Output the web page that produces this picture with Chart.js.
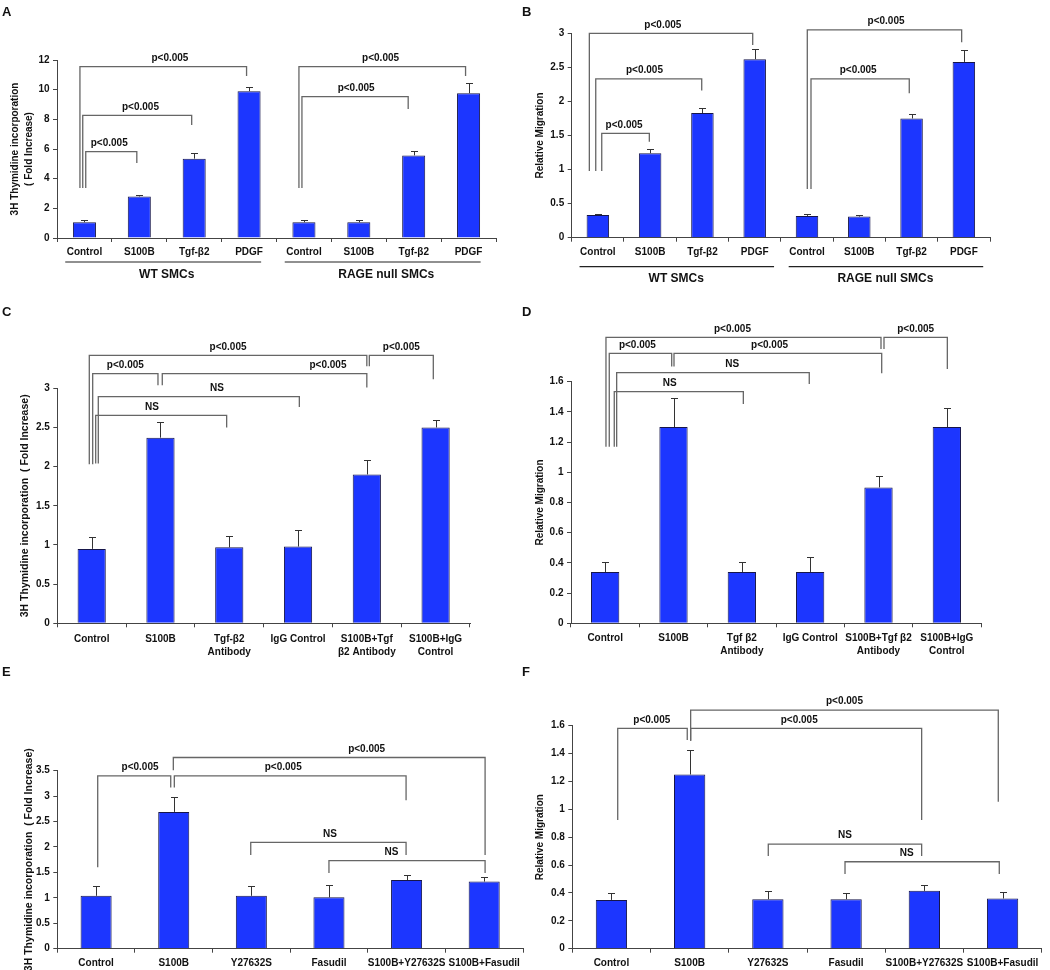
<!DOCTYPE html>
<html lang="en">
<head>
  <meta charset="UTF-8" />
  <title>S100B, Tgf-β2 and ROCK inhibitors in SMCs</title>
  <script src="https://cdn.jsdelivr.net/npm/chart.js"></script>
  <style>
    * { margin: 0; padding: 0; box-sizing: border-box; }
    html, body { width: 1050px; height: 970px; background: #fff; overflow: hidden; }
    .panel { position: absolute; }
  </style>
</head>
<body>
  <canvas id="chartA" class="panel"></canvas>
  <canvas id="chartB" class="panel"></canvas>
  <canvas id="chartC" class="panel"></canvas>
  <canvas id="chartD" class="panel"></canvas>
  <canvas id="chartE" class="panel"></canvas>
  <canvas id="chartF" class="panel"></canvas>

  <script>
    // ---- data ----
    const catsAB = ['Control', 'S100B', 'Tgf-β2', 'PDGF', 'Control', 'S100B', 'Tgf-β2', 'PDGF'];
    const groupsAB = ['WT SMCs', 'RAGE null SMCs'];

    const thymA    = [1.07, 2.80, 5.35, 9.90, 1.07, 1.06, 5.57, 9.76];
    const thymAErr = [0.16, 0.12, 0.38, 0.25, 0.15, 0.15, 0.32, 0.70];
    const ticksA   = [0, 2, 4, 6, 8, 10, 12];

    const migB    = [0.335, 1.24, 1.83, 2.62, 0.32, 0.31, 1.75, 2.58];
    const migBErr = [0.015, 0.06, 0.08, 0.15, 0.025, 0.025, 0.07, 0.18];
    const ticksB  = [0, 0.5, 1, 1.5, 2, 2.5, 3];

    const catsC    = ['Control', 'S100B', ['Tgf-β2', 'Antibody'], 'IgG Control', ['S100B+Tgf', 'β2 Antibody'], ['S100B+IgG', 'Control']];
    const thymC    = [0.95, 2.37, 0.97, 0.98, 1.90, 2.50];
    const thymCErr = [0.15, 0.20, 0.14, 0.21, 0.19, 0.10];
    const ticksC   = [0, 0.5, 1, 1.5, 2, 2.5, 3];

    const catsD   = ['Control', 'S100B', ['Tgf β2', 'Antibody'], 'IgG Control', ['S100B+Tgf β2', 'Antibody'], ['S100B+IgG', 'Control']];
    const migD    = [0.34, 1.30, 0.34, 0.34, 0.90, 1.30];
    const migDErr = [0.066, 0.19, 0.066, 0.097, 0.077, 0.126];
    const ticksD  = [0, 0.2, 0.4, 0.6, 0.8, 1, 1.2, 1.4, 1.6];

    const catsEF   = ['Control', 'S100B', 'Y27632S', 'Fasudil', 'S100B+Y27632S', 'S100B+Fasudil'];
    const thymE    = [1.04, 2.69, 1.04, 1.01, 1.35, 1.32];
    const thymEErr = [0.20, 0.30, 0.20, 0.25, 0.10, 0.09];
    const ticksE   = [0, 0.5, 1, 1.5, 2, 2.5, 3, 3.5];

    const migF    = [0.35, 1.25, 0.355, 0.355, 0.415, 0.36];
    const migFErr = [0.053, 0.177, 0.062, 0.048, 0.04, 0.044];
    const ticksF  = [0, 0.2, 0.4, 0.6, 0.8, 1, 1.2, 1.4, 1.6];

    // significance brackets: [from, nudgeFrom, to, nudgeTo, level, legFrom, legTo, text, textAt]
    const sigA = [
      [0, -4.5, 3, -2.5, 11.55, 3.37, 10.92, 'p<0.005', 0.54],
      [0, -1.7, 2, -2.5, 8.27, 3.37, 7.62, 'p<0.005', 0.53],
      [0, 1.3, 1, -2.5, 5.82, 3.37, 5.06, 'p<0.005', 0.46],
      [4, -5, 7, -3, 11.55, 3.37, 10.92, 'p<0.005', 0.49],
      [4, -2, 6, -5.5, 9.53, 3.37, 8.70, 'p<0.005', 0.51]
    ];
    const sigB = [
      [0, -8.5, 3, -2, 3.0, 0.98, 2.83, 'p<0.005', 0.45],
      [0, -2.1, 2, -0.7, 2.33, 0.98, 2.16, 'p<0.005', 0.46],
      [0, 3.9, 1, -0.8, 1.53, 0.98, 1.41, 'p<0.005', 0.47],
      [4, 0.3, 7, -2.2, 3.05, 0.715, 2.87, 'p<0.005', 0.51],
      [4, 4, 6, -2.3, 2.33, 0.715, 2.12, 'p<0.005', 0.48]
    ];
    const sigC = [
      [0, -2.4, 4, 0, 3.42, 2.03, 3.28, 'p<0.005', 0.5],
      [4, 2.5, 5, -2.3, 3.42, 3.28, 3.115, 'p<0.005', 0.5],
      [0, 1, 1, -2.5, 3.187, 2.03, 3.04, 'p<0.005', 0.5],
      [1, 1.8, 4, 0, 3.187, 3.04, 3.01, 'p<0.005', 0.81],
      [0, 6.6, 3, 1.3, 2.893, 2.04, 2.76, 'NS', 0.59],
      [0, 4, 2, -2.6, 2.655, 2.04, 2.50, 'NS', 0.43]
    ];
    const sigD = [
      [0, 0.8, 4, 2.5, 1.894, 1.17, 1.817, 'p<0.005', 0.46],
      [4, 5.5, 5, 0.5, 1.894, 1.817, 1.684, 'p<0.005', 0.5],
      [0, 4.1, 1, -1.8, 1.788, 1.17, 1.70, 'p<0.005', 0.45],
      [1, 0.5, 4, 3.2, 1.788, 1.70, 1.656, 'p<0.005', 0.46],
      [0, 11.5, 3, -0.9, 1.66, 1.17, 1.585, 'NS', 0.6],
      [0, 9.1, 2, 1.5, 1.534, 1.17, 1.452, 'NS', 0.43]
    ];
    const sigE = [
      [0, 1.6, 1, -3, 3.40, 1.60, 3.17, 'p<0.005', 0.58],
      [1, -0.4, 5, 0.9, 3.76, 3.51, 1.84, 'p<0.005', 0.62],
      [1, 0.6, 4, -0.5, 3.40, 3.17, 2.92, 'p<0.005', 0.47],
      [2, -0.6, 4, -0.5, 2.09, 1.84, 1.84, 'NS', 0.51],
      [3, 0, 5, 0.9, 1.73, 1.49, 1.49, 'NS', 0.4]
    ];
    const sigF = [
      [0, 6.3, 1, -2.4, 1.581, 0.923, 1.497, 'p<0.005', 0.49],
      [1, 1, 5, -4.3, 1.712, 1.492, 1.055, 'p<0.005', 0.5],
      [1, 1, 4, -2.7, 1.581, 1.492, 0.923, 'p<0.005', 0.47],
      [2, 0.4, 4, -2.7, 0.751, 0.665, 0.665, 'NS', 0.5],
      [3, -1.1, 5, -3.3, 0.624, 0.536, 0.536, 'NS', 0.4]
    ];

    // ---- layout of the six panels (page pixels) ----
    const FONT = "'Liberation Sans', Arial, Helvetica, sans-serif";
    const INK = '#111';
    const AXIS = '#444';
    const BAR = '#1c36ff';

    const panels = [
      { id: 'chartA', letter: 'A', box: [0, 0, 520, 300], area: [57, 60, 496, 238],
        title: ['3H Thymidine incorporation', '( Fold Increase)'], titleX: 15, titleSize: 10, titleLH: 1.4,
        labels: catsAB, values: thymA, errors: thymAErr, ticks: ticksA, barPct: 0.42, sig: sigA,
        groups: groupsAB, underline: [0.35, 0.22], lineDy: 24, groupDy: 37, labelPad: 3.5 },
      { id: 'chartB', letter: 'B', box: [520, 0, 530, 300], area: [571.7, 33.3, 990, 237.7],
        title: 'Relative Migration', titleX: 540.7, titleSize: 10, titleLH: 1.2,
        labels: catsAB, values: migB, errors: migBErr, ticks: ticksB, barPct: 0.43, sig: sigB,
        groups: groupsAB, underline: [0.35, 0.37], lineDy: 29, groupDy: 41, labelPad: 4 },
      { id: 'chartC', letter: 'C', box: [0, 300, 520, 360], area: [57.3, 388.3, 470, 623.3],
        title: '3H Thymidine incorporation  ( Fold Increase)', titleX: 25, titleSize: 10.5, titleLH: 1.2,
        labels: catsC, values: thymC, errors: thymCErr, ticks: ticksC, barPct: 0.41, sig: sigC, labelPad: 5 },
      { id: 'chartD', letter: 'D', box: [520, 300, 530, 360], area: [571, 381.7, 981, 623.3],
        title: 'Relative Migration', titleX: 540.7, titleSize: 10, titleLH: 1.2,
        labels: catsD, values: migD, errors: migDErr, ticks: ticksD, barPct: 0.414, sig: sigD, labelPad: 4.5 },
      { id: 'chartE', letter: 'E', box: [0, 660, 532, 310], area: [57.3, 770.7, 523, 948.7],
        title: '3H Thymidine incorporation  ( Fold Increase)', titleX: 29, titleSize: 10.5, titleLH: 1.2,
        labels: catsEF, values: thymE, errors: thymEErr, ticks: ticksE, barPct: 0.4, sig: sigE, labelPad: 4 },
      { id: 'chartF', letter: 'F', box: [520, 660, 530, 310], area: [572.3, 725.7, 1041.7, 948.7],
        title: 'Relative Migration', titleX: 540.7, titleSize: 10, titleLH: 1.2,
        labels: catsEF, values: migF, errors: migFErr, ticks: ticksF, barPct: 0.4, sig: sigF, labelPad: 4 }
    ];

    // error bars (upper half only, as in the figure)
    const errorBars = {
      id: 'errorBars',
      afterDatasetsDraw(chart) {
        const ds = chart.data.datasets[0];
        const y = chart.scales.y;
        const ctx = chart.ctx;
        ctx.save();
        ctx.strokeStyle = '#333';
        ctx.lineWidth = 1;
        chart.getDatasetMeta(0).data.forEach((bar, i) => {
          const top = Math.round(y.getPixelForValue(ds.data[i] + ds.errors[i])) + 0.5;
          const x = Math.round(bar.x) + 0.5;
          ctx.beginPath();
          ctx.moveTo(x, bar.y);
          ctx.lineTo(x, top);
          ctx.moveTo(x - 3.5, top);
          ctx.lineTo(x + 3.5, top);
          ctx.stroke();
        });
        ctx.restore();
      }
    };

    // brackets, group underlines, panel letter
    const extras = {
      id: 'extras',
      afterDraw(chart, args, opts) {
        const p = opts.panel;
        const xs = chart.scales.x, ys = chart.scales.y;
        const ctx = chart.ctx;
        ctx.save();

        ctx.strokeStyle = '#666';
        ctx.lineWidth = 1.3;
        ctx.fillStyle = INK;
        ctx.font = 'bold 10px ' + FONT;
        ctx.textAlign = 'center';
        ctx.textBaseline = 'middle';
        p.sig.forEach(([a, da, b, db, lvl, la, lb, text, at]) => {
          const x1 = xs.getPixelForValue(a) + da;
          const x2 = xs.getPixelForValue(b) + db;
          const yt = ys.getPixelForValue(lvl);
          ctx.beginPath();
          ctx.moveTo(x1, ys.getPixelForValue(la));
          ctx.lineTo(x1, yt);
          ctx.lineTo(x2, yt);
          ctx.lineTo(x2, ys.getPixelForValue(lb));
          ctx.stroke();
          ctx.fillText(text, x1 + (x2 - x1) * at, yt - 8.5);
        });

        if (p.groups) {
          const per = p.labels.length / p.groups.length;
          const w = xs.getPixelForValue(1) - xs.getPixelForValue(0);
          const base = chart.chartArea.bottom;
          ctx.strokeStyle = '#222';
          ctx.lineWidth = 1.2;
          ctx.font = 'bold 12px ' + FONT;
          p.groups.forEach((g, k) => {
            const c0 = xs.getPixelForValue(k * per);
            const c1 = xs.getPixelForValue(k * per + per - 1);
            ctx.beginPath();
            ctx.moveTo(c0 - p.underline[0] * w, base + p.lineDy);
            ctx.lineTo(c1 + p.underline[1] * w, base + p.lineDy);
            ctx.stroke();
            ctx.fillText(g, (c0 + c1) / 2, base + p.groupDy);
          });
        }

        ctx.font = 'bold 13px ' + FONT;
        ctx.textAlign = 'left';
        ctx.fillText(p.letter, 2, 12);
        ctx.restore();
      }
    };

    function buildPanel(p) {
      const [bx, by, bw, bh] = p.box;
      const [al, at, ar, ab] = p.area;
      const canvas = document.getElementById(p.id);
      canvas.width = bw;
      canvas.height = bh;
      canvas.style.left = bx + 'px';
      canvas.style.top = by + 'px';
      canvas.style.width = bw + 'px';
      canvas.style.height = bh + 'px';

      const titleLine = p.titleSize * p.titleLH;
      const padLeft = p.titleX - bx - titleLine / 2;
      const yWidth = al - bx - padLeft;
      const xHeight = by + bh - ab;
      const t = p.ticks;

      return new Chart(canvas, {
        type: 'bar',
        data: {
          labels: p.labels,
          datasets: [{
            data: p.values,
            errors: p.errors,
            backgroundColor: BAR,
            borderColor: '#16164a',
            borderWidth: 1,
            categoryPercentage: 1,
            barPercentage: p.barPct
          }]
        },
        options: {
          responsive: false,
          animation: false,
          devicePixelRatio: 1,
          events: [],
          layout: { padding: { left: padLeft, top: at - by, right: bx + bw - ar, bottom: 0 } },
          plugins: { legend: { display: false }, tooltip: { enabled: false }, extras: { panel: p } },
          scales: {
            x: {
              offset: true,
              grid: { offset: true, drawOnChartArea: false, drawTicks: true, tickLength: 4, color: AXIS },
              border: { color: AXIS, width: 1 },
              ticks: { color: INK, font: { size: 10, weight: 'bold', lineHeight: 1.3 }, padding: p.labelPad,
                       maxRotation: 0, minRotation: 0, autoSkip: false },
              afterFit(s) { s.height = xHeight; }
            },
            y: {
              min: t[0],
              max: t[t.length - 1],
              grid: { drawOnChartArea: false, drawTicks: true, tickLength: 4, color: AXIS },
              border: { color: AXIS, width: 1 },
              ticks: { stepSize: t[1] - t[0], color: INK, font: { size: 10, weight: 'bold' }, padding: 3.5,
                       callback: v => String(+v.toFixed(2)) },
              title: { display: true, text: p.title, color: INK, padding: 0,
                       font: { size: p.titleSize, weight: 'bold', lineHeight: p.titleLH } },
              afterFit(s) { s.width = yWidth; }
            }
          }
        },
        plugins: [errorBars, extras]
      });
    }

    Chart.defaults.font.family = FONT;
    panels.forEach(buildPanel);
  </script>
</body>
</html>
